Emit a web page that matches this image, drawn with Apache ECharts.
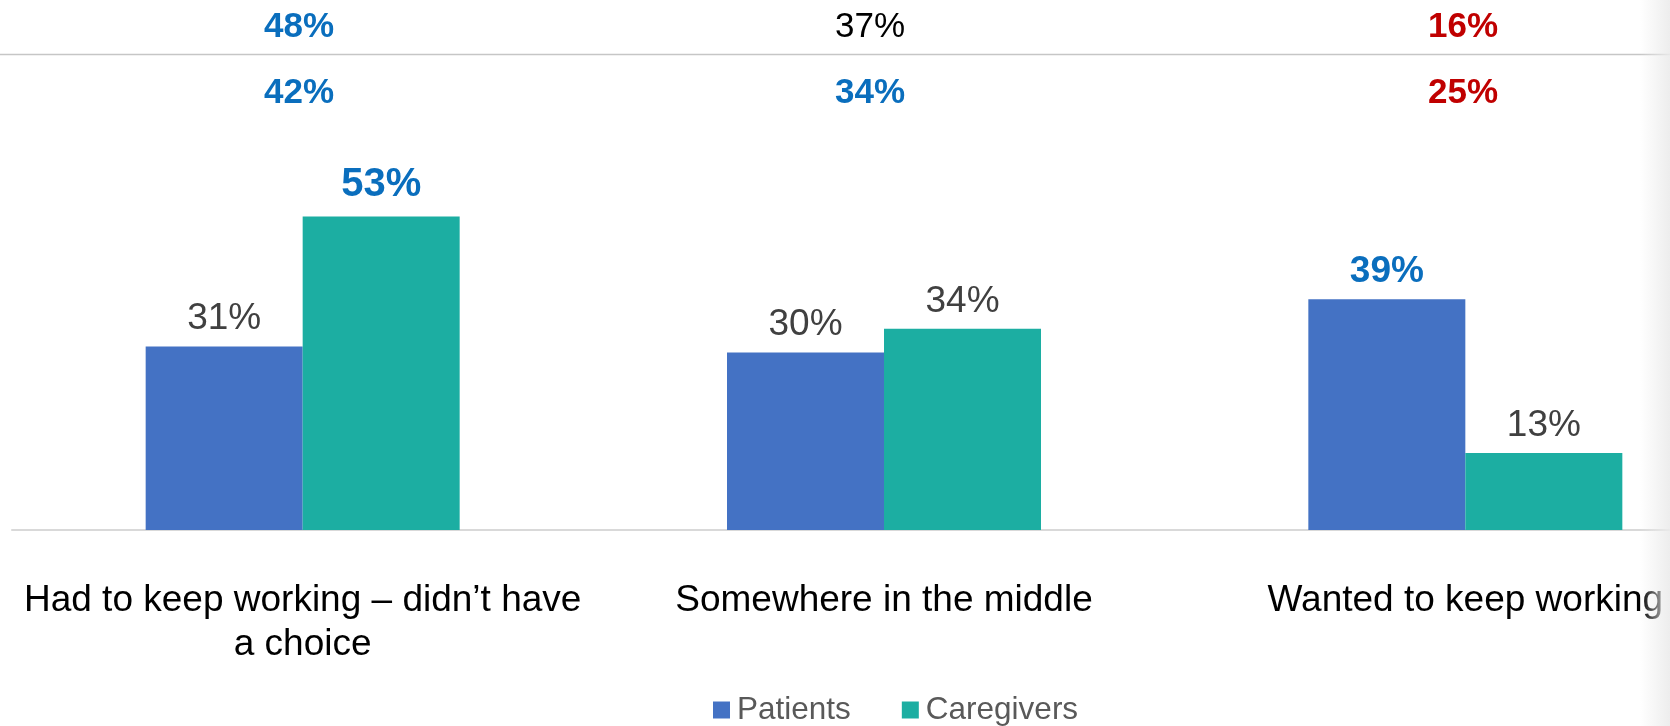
<!DOCTYPE html>
<html>
<head>
<meta charset="utf-8">
<title>Reasons for continuing to work</title>
<script src="https://cdn.jsdelivr.net/npm/echarts@6/dist/echarts.min.js"></script>
<style>
  html, body { margin: 0; padding: 0; background: #ffffff; }
  #chart { width: 1670px; height: 726px; }
</style>
</head>
<body>
<div id="chart"></div>
<script>
// ---- data ----
const categories = [
  'Had to keep working – didn’t have a choice',
  'Somewhere in the middle',
  'Wanted to keep working'
];
const seriesNames = ['Patients', 'Caregivers'];
const patients = [31, 30, 39];
const caregivers = [53, 34, 13];
// which bar values are called out in bold blue
const patientsHighlight = [false, false, true];
const caregiversHighlight = [true, false, false];

// comparison figures shown in the header rows
const headerRow1 = ['48%', '37%', '16%'];
const headerRow2 = ['42%', '34%', '25%'];
const headerRow1Tone = ['blue', 'plain', 'red'];
const headerRow2Tone = ['blue', 'blue', 'red'];

// ---- styling ----
const FONT = '"Liberation Sans", Arial, Helvetica, sans-serif';
const COLORS = { patients: '#4472C4', caregivers: '#1CAEA2' };
const TONE = { blue: '#0A6EBD', red: '#C00000', plain: '#000000' };
const AXIS_FONT_SIZE = 37;
const AXIS_LABEL_MAX_WIDTH = 580;

// word-wrap a category name to the available width using real text metrics
const measureCtx = document.createElement('canvas').getContext('2d');
function wrapLabel(text) {
  measureCtx.font = AXIS_FONT_SIZE + 'px ' + FONT;
  const words = text.split(' ');
  const lines = [];
  let line = '';
  words.forEach(w => {
    const trial = line ? line + ' ' + w : w;
    if (line && measureCtx.measureText(trial).width > AXIS_LABEL_MAX_WIDTH) {
      lines.push(line);
      line = w;
    } else {
      line = trial;
    }
  });
  if (line) lines.push(line);
  return lines.join('\n');
}

const chart = echarts.init(document.getElementById('chart'), null, { renderer: 'canvas' });

function barData(values, highlight, bigBold) {
  return values.map((v, i) => {
    const item = { value: v };
    if (highlight[i]) {
      item.label = {
        color: '#0A6EBD',
        fontWeight: 'bold',
        fontSize: bigBold[i] ? 40 : 37,
        distance: bigBold[i] ? 11 : 9
      };
    }
    return item;
  });
}

const baseLabel = {
  show: true,
  position: 'top',
  distance: 9,
  formatter: p => p.value + '%',
  fontFamily: FONT,
  fontSize: 37,
  color: '#404040'
};

// header texts (a two-row comparison table above the chart)
const headerX = [299, 870, 1463];
const headerGraphics = [];
function headerText(txt, tone, x, y) {
  return {
    type: 'text',
    x: x,
    y: y,
    style: {
      text: txt,
      x: 0, y: 0,
      align: 'center',
      verticalAlign: 'middle',
      fill: TONE[tone],
      font: (tone === 'plain' ? 'normal ' : 'bold ') + '35px ' + FONT
    },
    z: 10
  };
}
headerRow1.forEach((t, i) => headerGraphics.push(headerText(t, headerRow1Tone[i], headerX[i], 27)));
headerRow2.forEach((t, i) => headerGraphics.push(headerText(t, headerRow2Tone[i], headerX[i], 93)));

const option = {
  backgroundColor: '#ffffff',
  animation: false,
  textStyle: { fontFamily: FONT },
  grid: {
    left: 12, top: 175, width: 1744, bottom: 196,
    containLabel: false,
    outerBoundsMode: 'none'
  },
  legend: {
    data: seriesNames,
    left: 708,
    top: 689,
    icon: 'rect',
    itemWidth: 17,
    itemHeight: 17,
    itemGap: 51,
    textStyle: { fontFamily: FONT, fontSize: 31.5, color: '#595959', padding: [0, 0, 0, 2] }
  },
  xAxis: {
    type: 'category',
    data: categories,
    axisLine: { show: true, lineStyle: { color: '#d9d9d9', width: 2 } },
    axisTick: { show: false },
    axisLabel: {
      margin: 49,
      interval: 0,
      color: '#000000',
      fontFamily: FONT,
      fontSize: AXIS_FONT_SIZE,
      lineHeight: 44,
      align: 'center',
      formatter: v => wrapLabel(v)
    }
  },
  yAxis: {
    type: 'value',
    min: 0,
    max: 60,
    show: false,
    splitLine: { show: false }
  },
  series: [
    {
      name: seriesNames[0],
      type: 'bar',
      barWidth: 157,
      barGap: '0%',
      itemStyle: { color: COLORS.patients },
      label: baseLabel,
      data: barData(patients, patientsHighlight, [false, false, false])
    },
    {
      name: seriesNames[1],
      type: 'bar',
      barWidth: 157,
      barGap: '0%',
      itemStyle: { color: COLORS.caregivers },
      label: baseLabel,
      data: barData(caregivers, caregiversHighlight, [true, false, false])
    }
  ],
  graphic: [
    // rule between the two header rows
    {
      type: 'line',
      shape: { x1: 0, y1: 54.5, x2: 1670, y2: 54.5 },
      style: { stroke: '#c6c6c6', lineWidth: 1.5 },
      z: 5
    },
    ...headerGraphics,
    // soft shade along the right edge
    {
      type: 'rect',
      shape: { x: 1640, y: 0, width: 30, height: 726 },
      style: {
        fill: {
          type: 'linear', x: 0, y: 0, x2: 1, y2: 0,
          colorStops: [
            { offset: 0, color: 'rgba(235,235,235,0)' },
            { offset: 1, color: 'rgba(235,235,235,0.9)' }
          ]
        }
      },
      silent: true,
      z: 20
    }
  ]
};

chart.setOption(option);
</script>
</body>
</html>
